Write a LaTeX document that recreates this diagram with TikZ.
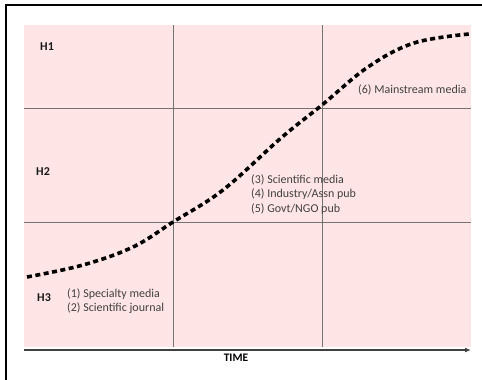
\documentclass[tikz,border=0pt]{standalone}
\usepackage{fontspec}
\setmainfont{Carlito}
\usetikzlibrary{arrows.meta}
\definecolor{hypepink}{RGB}{255,229,229}
\definecolor{gridgray}{RGB}{115,115,115}
\definecolor{txtgray}{RGB}{64,64,64}
\tikzset{
	phase/.style={anchor=west, inner sep=0pt, font=\fontsize{12}{14}\selectfont\bfseries, text=black!90},
	media/.style={anchor=west, inner sep=0pt, align=left, font=\fontsize{12}{14.5}\selectfont, text=txtgray}
}

\begin{document}
\begin{tikzpicture}[x=1pt, y=-1pt]
			%%%%% START %%%%%
			\useasboundingbox (0, 0) rectangle (482, 380);
			
			\draw[line width=1.5pt] (6, 380) -- (6, 5) -- (482, 5);
			
			\coordinate (tl) at (24, 25);
			\coordinate (br) at (471, 347);
			\fill[hypepink] (tl) rectangle (br);
			
			\draw[gridgray, line width=0.8pt] (173, 25) -- (173, 347);
			\draw[gridgray, line width=0.8pt] (322, 25) -- (322, 347);
			\draw[gridgray, line width=0.8pt] (24, 108) -- (471, 108);
			\draw[gridgray, line width=0.8pt] (24, 222) -- (471, 222);
			
			\coordinate (t0) at (24, 350);
			\coordinate (t1) at (471, 350);
			\draw[black!75, line width=1.3pt, -{Latex[length=6pt, width=5pt]}] (t0) -- (t1);
			\node[inner sep=0pt, font=\fontsize{11.5}{13}\selectfont\bfseries] (time) at (236, 358) {TIME};
			
			\draw[line width=3.6pt, dash pattern=on 5pt off 3.5pt] plot[smooth, tension=0.6] coordinates {
				(27, 277) (83, 265) (133, 247) (173, 222) (223, 190) (281, 138)
				(322, 105) (368, 67) (414, 43) (469, 34)};
			
			\node[phase] (h1) at (40, 47) {H1};
			\node[phase] (h2) at (36, 172) {H2};
			\node[phase] (h3) at (37, 298) {H3};
			
			\node[media] (early) at (67, 301) {(1) Specialty media\\(2) Scientific journal};
			\node[media] (mid) at (251, 194.5) {(3) Scientific media\\(4) Industry/Assn pub\\(5) Govt/NGO pub};
			\node[media] (late) at (358, 90) {(6) Mainstream media};
			
			%%%%% END %%%%%
		\end{tikzpicture}
\end{document}
